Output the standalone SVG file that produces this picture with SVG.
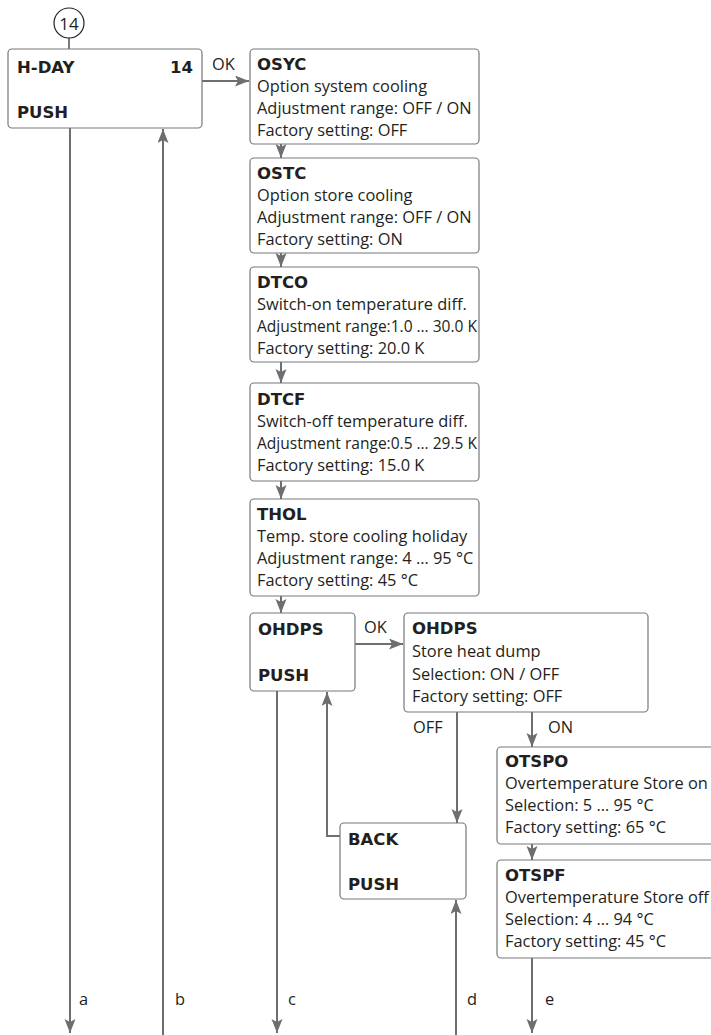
<svg xmlns="http://www.w3.org/2000/svg" width="711" height="1035" viewBox="0 0 711 1035">
<style>
.box{fill:#fff;stroke:#77787b;stroke-width:1.2}
.t{font-family:"Open Sans","Liberation Sans",sans-serif;font-size:16.4px;fill:#231f20}
.b{font-family:"DejaVu Sans","Open Sans",sans-serif;font-weight:bold;font-size:16.5px}
.ca{fill:none;stroke:#6d6e71;stroke-width:2;marker-end:url(#ah)}
</style>
<defs>
<marker id="ah" markerUnits="userSpaceOnUse" markerWidth="15" markerHeight="12" refX="14" refY="5.5" orient="auto">
<path d="M0,0 L14,5.5 L0,11 L3,5.5 z" fill="#6d6e71"/>
</marker>
</defs>
<g id="connectors">
<line x1="69" y1="38" x2="69" y2="49" stroke="#231f20" stroke-width="1.2"/>
<line class="ca" x1="202" y1="81" x2="249" y2="81"/>
<line class="ca" x1="70" y1="128" x2="70" y2="1033"/>
<line class="ca" x1="163" y1="1035" x2="163" y2="129"/>
<line class="ca" x1="281" y1="144" x2="281" y2="158"/>
<line class="ca" x1="281" y1="253" x2="281" y2="267"/>
<line class="ca" x1="281" y1="362" x2="281" y2="383"/>
<line class="ca" x1="281" y1="481" x2="281" y2="499"/>
<line class="ca" x1="281" y1="596" x2="281" y2="613"/>
<line class="ca" x1="355" y1="644" x2="403" y2="644"/>
<line class="ca" x1="277" y1="691" x2="277" y2="1033"/>
<line class="ca" x1="457" y1="712" x2="457" y2="823"/>
<line class="ca" x1="532" y1="712" x2="532" y2="747"/>
<polyline class="ca" points="340,836 327,836 327,692"/>
<line class="ca" x1="456" y1="1035" x2="456" y2="900"/>
<line class="ca" x1="532" y1="844" x2="532" y2="860"/>
<line class="ca" x1="532" y1="958" x2="532" y2="1033"/>
<g class="t">
<text x="212" y="70">OK</text>
<text x="364" y="633">OK</text>
<text x="413" y="733">OFF</text>
<text x="548" y="733">ON</text>
<text x="79" y="1005">a</text>
<text x="175" y="1005">b</text>
<text x="288" y="1005">c</text>
<text x="467" y="1005">d</text>
<text x="545" y="1005">e</text>
</g>
</g>
<g id="marker14">
<circle cx="69" cy="23" r="15" fill="#fff" stroke="#231f20" stroke-width="1.2"/>
<text class="t" x="69" y="29.5" text-anchor="middle" style="font-size:17px">14</text>
</g>
<g id="hday">
<rect class="box" x="8" y="49" width="194" height="79" rx="4"/>
<text class="t b" x="17" y="73">H-DAY</text>
<text class="t b" x="193" y="73" text-anchor="end">14</text>
<text class="t b" x="17" y="118">PUSH</text>
</g>
<g id="osyc">
<rect class="box" x="250" y="49" width="229" height="95" rx="4"/>
<text class="t b" x="257" y="70">OSYC</text>
<text class="t" x="257" y="92">Option system cooling</text>
<text class="t" x="257" y="114">Adjustment range: OFF / ON</text>
<text class="t" x="257" y="136">Factory setting: OFF</text>
</g>
<g id="ostc">
<rect class="box" x="250" y="158" width="229" height="95" rx="4"/>
<text class="t b" x="257" y="179">OSTC</text>
<text class="t" x="257" y="201">Option store cooling</text>
<text class="t" x="257" y="223">Adjustment range: OFF / ON</text>
<text class="t" x="257" y="245">Factory setting: ON</text>
</g>
<g id="dtco">
<rect class="box" x="250" y="267" width="229" height="95" rx="4"/>
<text class="t b" x="257" y="288">DTCO</text>
<text class="t" x="257" y="310">Switch-on temperature diff.</text>
<text class="t" x="257" y="332" textLength="220" lengthAdjust="spacingAndGlyphs">Adjustment range:1.0 … 30.0 K</text>
<text class="t" x="257" y="354">Factory setting: 20.0 K</text>
</g>
<g id="dtcf">
<rect class="box" x="250" y="383" width="229" height="98" rx="4"/>
<text class="t b" x="257" y="405">DTCF</text>
<text class="t" x="257" y="427">Switch-off temperature diff.</text>
<text class="t" x="257" y="449" textLength="220" lengthAdjust="spacingAndGlyphs">Adjustment range:0.5 … 29.5 K</text>
<text class="t" x="257" y="471">Factory setting: 15.0 K</text>
</g>
<g id="thol">
<rect class="box" x="250" y="499" width="229" height="97" rx="4"/>
<text class="t b" x="257" y="520">THOL</text>
<text class="t" x="257" y="542">Temp. store cooling holiday</text>
<text class="t" x="257" y="564">Adjustment range: 4 … 95 °C</text>
<text class="t" x="257" y="586">Factory setting: 45 °C</text>
</g>
<g id="ohdps-push">
<rect class="box" x="250" y="613" width="105" height="78" rx="4"/>
<text class="t b" x="258" y="635">OHDPS</text>
<text class="t b" x="258" y="681">PUSH</text>
</g>
<g id="ohdps">
<rect class="box" x="404" y="613" width="244" height="99" rx="4"/>
<text class="t b" x="412" y="634">OHDPS</text>
<text class="t" x="412" y="657">Store heat dump</text>
<text class="t" x="412" y="680">Selection: ON / OFF</text>
<text class="t" x="412" y="702">Factory setting: OFF</text>
</g>
<g id="otspo">
<rect class="box" x="497" y="747" width="230" height="97" rx="4"/>
<text class="t b" x="505" y="767">OTSPO</text>
<text class="t" x="505" y="789">Overtemperature Store on</text>
<text class="t" x="505" y="811">Selection: 5 … 95 °C</text>
<text class="t" x="505" y="833">Factory setting: 65 °C</text>
</g>
<g id="otspf">
<rect class="box" x="497" y="860" width="230" height="98" rx="4"/>
<text class="t b" x="505" y="881">OTSPF</text>
<text class="t" x="505" y="903">Overtemperature Store off</text>
<text class="t" x="505" y="925">Selection: 4 … 94 °C</text>
<text class="t" x="505" y="947">Factory setting: 45 °C</text>
</g>
<g id="back">
<rect class="box" x="340" y="823" width="126" height="76" rx="4"/>
<text class="t b" x="348" y="845">BACK</text>
<text class="t b" x="348" y="890">PUSH</text>
</g>
</svg>
